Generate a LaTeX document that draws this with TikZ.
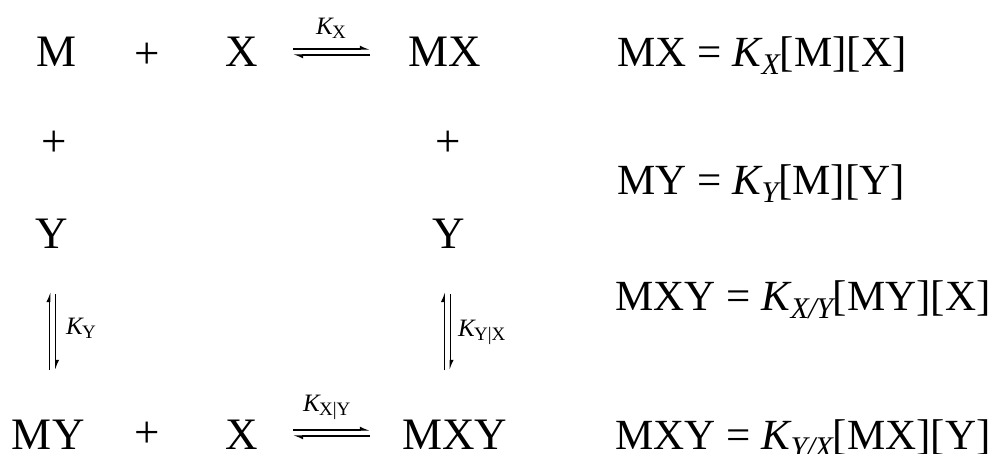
\documentclass[tikz,border=0pt]{standalone}
\usepackage{fontspec}
\setmainfont{Liberation Serif}
\usetikzlibrary{arrows.meta}
\newcommand\bigfont{\fontsize{45}{54}\selectfont}
\newcommand\eqfont{\fontsize{43}{50}\selectfont}
\newcommand\subfont{\fontsize{30}{34}\selectfont}
\newcommand\lblfont{\fontsize{25}{28}\selectfont}
\newcommand\lblsub{\fontsize{19}{21}\selectfont}
\newcommand\Keq[1]{\textit{K}\kern-1pt\raisebox{-8pt}{\subfont\itshape #1}}
\newcommand\Klab[1]{{\lblfont\itshape K}\kern-0.5pt\raisebox{-4pt}{\lblsub #1}}
\begin{document}
\begin{tikzpicture}[x=1pt,y=-1pt,
  txt/.style={inner sep=0pt, outer sep=0pt, font=\bigfont, anchor=base west},
  eqn/.style={inner sep=0pt, outer sep=0pt, font=\eqfont, anchor=base west},
  pl/.style={inner sep=0pt, outer sep=0pt, font=\bigfont, anchor=center},
  lbl/.style={inner sep=0pt, outer sep=0pt, anchor=base west},
  harp/.style={line width=1.2pt, -{Latex[left,length=8pt,width=7pt]}}]
\useasboundingbox (0,0) rectangle (995,454);
% row 1
\node[txt] (M) at (36,67) {M};
\node[pl] (p1) at (147,56) {+};
\node[txt] (X1) at (225,67) {X};
\node[txt] (MX) at (408,67) {MX};
\node[lbl] (kx) at (316,35) {\Klab{X}};
\draw[harp, shorten <=35.5pt, shorten >=38pt] ([yshift=18pt]X1.base east) -- ([yshift=18pt]MX.base west);
\draw[harp, shorten <=38pt, shorten >=35.5pt] ([yshift=12pt]MX.base west) -- ([yshift=12pt]X1.base east);
% row 2
\node[pl] (p2) at (54,144) {+};
\node[pl] (p3) at (448,144) {+};
% row 3
\node[txt] (Y1) at (35,249) {Y};
\node[txt] (Y2) at (432,249) {Y};
% vertical arrows
\draw[harp] ([xshift=-1.5pt,yshift=-121pt]Y1.base) -- ([xshift=-1.5pt,yshift=-43pt]Y1.base);
\draw[harp] ([xshift=4.5pt,yshift=-45pt]Y1.base) -- ([xshift=4.5pt,yshift=-121pt]Y1.base);
\draw[harp] ([xshift=-4pt,yshift=-121pt]Y2.base) -- ([xshift=-4pt,yshift=-43pt]Y2.base);
\draw[harp] ([xshift=2pt,yshift=-45pt]Y2.base) -- ([xshift=2pt,yshift=-121pt]Y2.base);
\node[lbl] (ky) at (66,334) {\Klab{Y}};
\node[lbl] (kyx) at (458,336) {\Klab{Y|X}};
% row 5
\node[txt] (MY) at (12,449) {MY};
\node[pl] (p4) at (147,435) {+};
\node[txt] (X2) at (225,449) {X};
\node[txt] (MXY) at (402,449) {MXY};
\node[lbl] (kxy) at (303,411) {\Klab{X|Y}};
\draw[harp, shorten <=35.5pt, shorten >=32pt] ([yshift=19pt]X2.base east) -- ([yshift=19pt]MXY.base west);
\draw[harp, shorten <=32pt, shorten >=35.5pt] ([yshift=13pt]MXY.base west) -- ([yshift=13pt]X2.base east);
% equations
\node[eqn] (e1) at (617,67) {MX = \Keq{X}[M][X]};
\node[eqn] (e2) at (617,195) {MY = \Keq{Y}[M][Y]};
\node[eqn] (e3) at (615,310) {MXY = \Keq{X\kern-0.5pt/\kern-0.5pt Y}[MY][X]};
\node[eqn] (e4) at (615,449) {MXY = \Keq{Y\kern-0.5pt/\kern-0.5pt X}[MX][Y]};
\end{tikzpicture}
\end{document}
